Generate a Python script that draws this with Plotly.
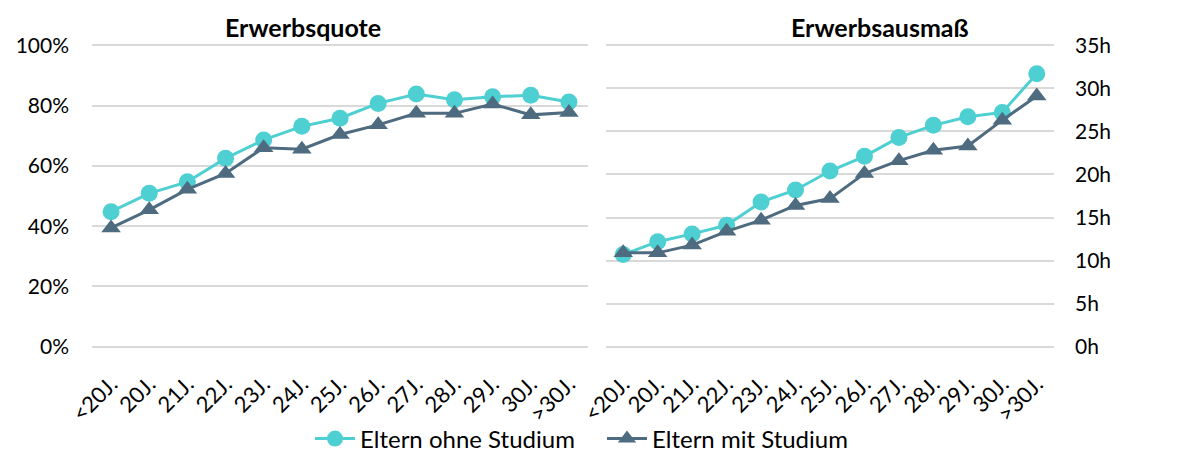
import plotly.graph_objects as go

# Altersgruppen (Kategorien)
kategorien = ["<20J.", "20J.", "21J.", "22J.", "23J.", "24J.", "25J.", "26J.", "27J.", "28J.", "29J.", "30J.", ">30J."]

# Erwerbsquote in %
quote_ohne = [44.8, 50.9, 54.7, 62.5, 68.6, 73.1, 75.8, 80.7, 83.8, 81.9, 82.9, 83.4, 81.2]
quote_mit = [39.4, 45.4, 52.2, 57.5, 66.0, 65.5, 70.4, 73.6, 77.4, 77.4, 80.5, 76.9, 77.7]

# Erwerbsausmass in Stunden
ausmass_ohne = [10.7, 12.2, 13.1, 14.1, 16.8, 18.2, 20.4, 22.1, 24.3, 25.7, 26.7, 27.2, 31.7]
ausmass_mit = [10.9, 10.9, 11.8, 13.4, 14.7, 16.4, 17.2, 20.1, 21.6, 22.8, 23.3, 26.3, 29.1]

teal = '#4ECFD1'
slate = '#4E6B80'
grid = '#D9D9D9'
font_name = 'Lato'

fig = go.Figure()

# Erwerbsquote (links)
fig.add_trace(go.Scatter(x=kategorien, y=quote_ohne, mode='lines+markers', name='Eltern ohne Studium',
                         line=dict(color=teal, width=3), marker=dict(symbol='circle', size=17, color=teal),
                         xaxis='x', yaxis='y', legendgroup='ohne'))
fig.add_trace(go.Scatter(x=kategorien, y=quote_mit, mode='lines+markers', name='Eltern mit Studium',
                         line=dict(color=slate, width=3), marker=dict(symbol='triangle-up', size=17, color=slate),
                         xaxis='x', yaxis='y', legendgroup='mit'))

# Erwerbsausmass (rechts)
fig.add_trace(go.Scatter(x=kategorien, y=ausmass_ohne, mode='lines+markers', name='Eltern ohne Studium',
                         line=dict(color=teal, width=3), marker=dict(symbol='circle', size=17, color=teal),
                         xaxis='x2', yaxis='y2', legendgroup='ohne', showlegend=False))
fig.add_trace(go.Scatter(x=kategorien, y=ausmass_mit, mode='lines+markers', name='Eltern mit Studium',
                         line=dict(color=slate, width=3), marker=dict(symbol='triangle-up', size=17, color=slate),
                         xaxis='x2', yaxis='y2', legendgroup='mit', showlegend=False))

y_dom = [106 / 454, 410 / 454]

fig.update_layout(
    width=1182, height=454,
    margin=dict(l=0, r=0, t=0, b=0, autoexpand=False),
    plot_bgcolor='white',
    paper_bgcolor='white',
    font=dict(family=font_name, size=21, color='#000000'),
    xaxis=dict(domain=[92 / 1182, 588 / 1182], range=[-0.5, 12.5], tickangle=-45, showgrid=False,
               showline=False, ticks='', tickfont=dict(size=22), ticklabelstandoff=18, automargin=False),
    xaxis2=dict(domain=[606 / 1182, 1054 / 1182], range=[-0.5, 12.5], tickangle=-45, showgrid=False,
                showline=False, ticks='', tickfont=dict(size=22), ticklabelstandoff=18, anchor='y2',
                automargin=False),
    yaxis=dict(domain=y_dom, range=[-0.4, 100.4], dtick=20, ticksuffix='%', gridcolor=grid, gridwidth=1.5,
               zeroline=False, showline=False, ticklabelstandoff=22, automargin=False),
    yaxis2=dict(domain=y_dom, range=[-0.14, 35.14], dtick=5, ticksuffix='h', gridcolor=grid, gridwidth=1.5,
                zeroline=False, showline=False, anchor='x2', side='right', ticklabelstandoff=20, automargin=False),
    legend=dict(orientation='h', x=310 / 1182, xanchor='left', y=15 / 454, yanchor='middle',
                font=dict(size=24), itemwidth=40, entrywidth=237, bgcolor='rgba(0,0,0,0)'),
    showlegend=True,
)

fig.add_annotation(text='<b>Erwerbsquote</b>', x=303 / 1182, y=1 - 27 / 454, xref='paper', yref='paper',
                   xanchor='center', yanchor='middle', showarrow=False, font=dict(size=25))
fig.add_annotation(text='<b>Erwerbsausmaß</b>', x=880 / 1182, y=1 - 27 / 454, xref='paper', yref='paper',
                   xanchor='center', yanchor='middle', showarrow=False, font=dict(size=25))

# Seitenrand entfernen, damit die Grafik genau im Fenster sitzt
fig.write_html("out.html", config={'displayModeBar': False},
               post_script="document.body.style.margin='0';")
